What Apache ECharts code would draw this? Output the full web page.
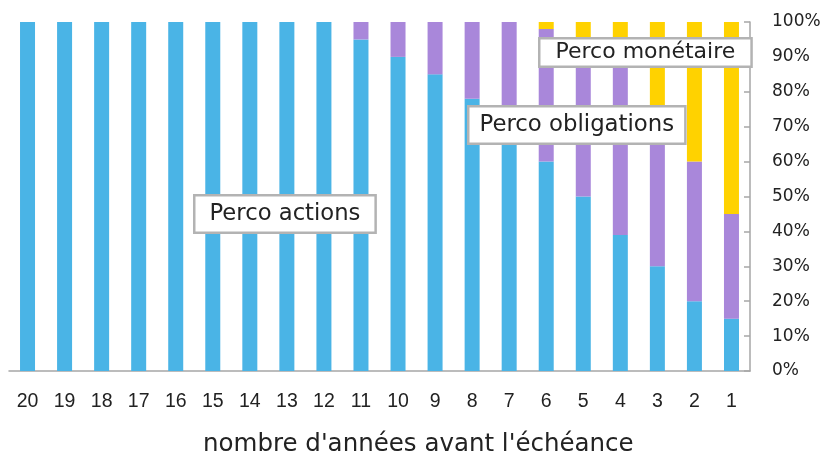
<!DOCTYPE html>
<html>
<head>
<meta charset="utf-8">
<script src="https://cdn.jsdelivr.net/npm/echarts@6/dist/echarts.min.js"></script>
<style>
  html, body { margin: 0; padding: 0; background: #fff; }
  #chart { width: 827px; height: 454px; }
</style>
</head>
<body>
<div id="chart"></div>
<script>
// années avant l'échéance
const categories = ['20', '19', '18', '17', '16', '15', '14', '13', '12', '11', '10', '9', '8', '7', '6', '5', '4', '3', '2', '1'];
// répartition en %
const actions     = [100, 100, 100, 100, 100, 100, 100, 100, 100, 95, 90, 85, 78, 70, 60, 50, 39, 30, 20, 15];
const obligations = [0, 0, 0, 0, 0, 0, 0, 0, 0, 5, 10, 15, 22, 30, 38, 45, 51, 46, 40, 30];
const monetaire   = [0, 0, 0, 0, 0, 0, 0, 0, 0, 0, 0, 0, 0, 0, 2, 5, 10, 24, 40, 55];
const yTicks = [0, 10, 20, 30, 40, 50, 60, 70, 80, 90, 100];

const colors = ['#4AB4E6', '#A987DA', '#FFD200'];
const axisGrey = '#a6a6a6';

const chart = echarts.init(document.getElementById('chart'));

const boxLabel = (text, left, top, size, padding) => ({
  type: 'text',
  left: left,
  top: top,
  z: 100,
  style: {
    text: text,
    font: size + 'px "DejaVu Sans"',
    fill: '#222',
    backgroundColor: '#fff',
    borderColor: '#b3b3b3',
    borderWidth: 2.5,
    padding: padding
  }
});

const setSeries = (name, data, color) => ({
  name: name,
  type: 'bar',
  stack: 'total',
  barWidth: 15,
  data: data,
  itemStyle: { color: color },
  emphasis: { disabled: true }
});

const option = {
  animation: false,
  backgroundColor: '#fff',
  grid: { left: 9, right: 77, top: 22, bottom: 83, containLabel: false },
  xAxis: {
    type: 'category',
    data: categories,
    axisLine: { lineStyle: { color: axisGrey, width: 1.5 } },
    axisTick: { length: 6, lineStyle: { color: axisGrey, width: 1.5 } },
    axisLabel: {
      margin: 21,
      color: '#222',
      fontFamily: 'Liberation Sans',
      fontSize: 19.5
    }
  },
  yAxis: {
    type: 'value',
    position: 'right',
    min: 0,
    max: yTicks[yTicks.length - 1],
    interval: yTicks[1] - yTicks[0],
    splitLine: { show: false },
    axisLine: { show: true, lineStyle: { color: axisGrey, width: 1.5 } },
    axisTick: { show: true, inside: true, length: 6, lineStyle: { color: axisGrey, width: 1.5 } },
    axisLabel: {
      margin: 22,
      color: '#222',
      fontFamily: 'DejaVu Sans',
      fontSize: 17,
      formatter: '{value}%'
    }
  },
  series: [
    setSeries('Perco actions', actions, colors[0]),
    setSeries('Perco obligations', obligations, colors[1]),
    setSeries('Perco monétaire', monetaire, colors[2])
  ],
  graphic: [
    boxLabel('Perco actions', 193, 194, 22.7, [6, 14, 6, 14]),
    boxLabel('Perco obligations', 467, 105, 22.8, [6, 10, 6, 10]),
    boxLabel('Perco monétaire', 538, 37, 22, [2, 15, 2, 15]),
    {
      type: 'text',
      left: 203,
      top: 432,
      style: {
        text: "nombre d'années avant l'échéance",
        font: '24.5px "DejaVu Sans"',
        fill: '#222'
      }
    }
  ]
};

chart.setOption(option);
</script>
</body>
</html>
